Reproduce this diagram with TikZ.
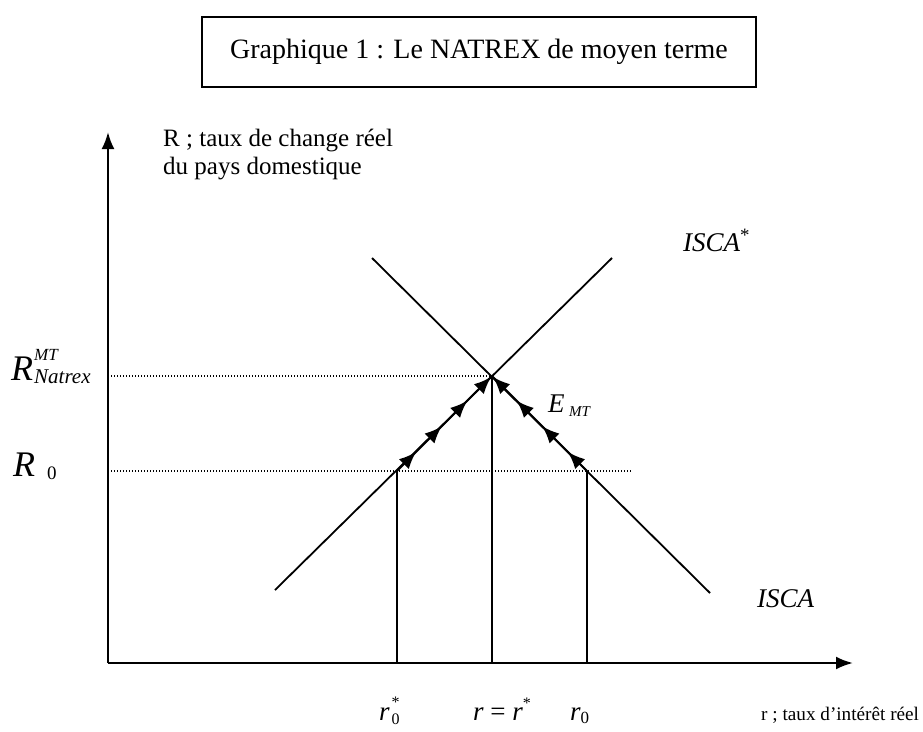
\documentclass[tikz,border=0pt]{standalone}
\usepackage{fontspec}
\setmainfont{Liberation Serif}
\usetikzlibrary{arrows.meta,positioning,calc,decorations.markings}

\newcommand{\sz}[1]{\fontsize{#1}{#1}\selectfont}

\begin{document}
\begin{tikzpicture}[x=1pt,y=-1pt,>=Latex,
  axis/.style={line width=2.4pt,-{Latex[length=17pt,width=13pt]}},
  curve/.style={line width=1.8pt},
  guide/.style={line width=1.3pt,dash pattern=on 1.3pt off 1.7pt},
  flow/.style={curve,postaction={decorate},decoration={markings,
    mark=at position 0.2 with {\arrow{Latex[length=17pt,width=14pt]}},
    mark=at position 0.47 with {\arrow{Latex[length=17pt,width=14pt]}},
    mark=at position 0.74 with {\arrow{Latex[length=17pt,width=14pt]}},
    mark=at position 0.99 with {\arrow{Latex[length=17pt,width=14pt]}}}},
  txt/.style={font=\sz{25},inner sep=0pt,anchor=base west},
  mth/.style={font=\sz{27}\itshape,inner sep=0pt,anchor=base west}]
\useasboundingbox (0,0) rectangle (923,731);
% title
\node[draw,line width=1.8pt,minimum width=554pt,minimum height=70pt,
  font=\sz{28}] (title) at (479,52) {Graphique 1 : Le NATREX de moyen terme};
% axes
\coordinate (O) at (108,663);
\coordinate (ytop) at (108,132);
\coordinate (xend) at (853,663);
\draw[axis] (O) -- (ytop);
\draw[axis] (O) -- (xend);
% points
\coordinate (E) at (492,376);
\coordinate (A) at (397,471);
\coordinate (B) at (587,471);
% curves
\draw[curve] (275,590) -- (612,258);
\draw[curve] (372,258) -- (710,593);
\draw[flow] (A) -- (E);
\draw[flow] (B) -- (E);
% guides
\draw[guide] (O |- E) -- (E);
\draw[guide] (O |- A) -- (632,471);
\draw[curve] (A) -- (A |- O);
\draw[curve] (E) -- (E |- O);
\draw[curve] (B) -- (B |- O);
% labels
\node[txt,align=left,anchor=north west] (ylab) at (163,129) {R ; taux de change réel\\[3pt]du pays domestique};
\node[mth] (iscas) at (683,251) {ISCA\textsuperscript{\upshape *}};
\node[mth] (emt) at (548,412) {E\,\raisebox{-4pt}{\sz{15}MT}};
\node[mth] (isca) at (757,607) {ISCA};
\node[mth,font=\sz{36}\itshape] (rnat) at (11,380) {R\kern1pt\rlap{\raisebox{20pt}{\sz{17}MT}}\raisebox{-3pt}{\sz{21}Natrex}};
\node[mth,font=\sz{36}\itshape] (rzero) at (13,476) {R\kern12pt\raisebox{-3pt}{\upshape\sz{19}0}};
\node[mth] (rzs) at (379,720) {r\kern2pt\rlap{\raisebox{13pt}{\upshape\sz{16}*}}\raisebox{-4pt}{\upshape\sz{16}0}};
\node[mth] (req) at (473,720) {r {\upshape =} r\raisebox{12pt}{\upshape\sz{16}*}};
\node[mth] (rz) at (570,720) {r\raisebox{-3pt}{\upshape\sz{17}0}};
\node[txt,font=\sz{19.2}] (xlab) at (761,720) {r ; taux d’intérêt réel};
\end{tikzpicture}
\end{document}
